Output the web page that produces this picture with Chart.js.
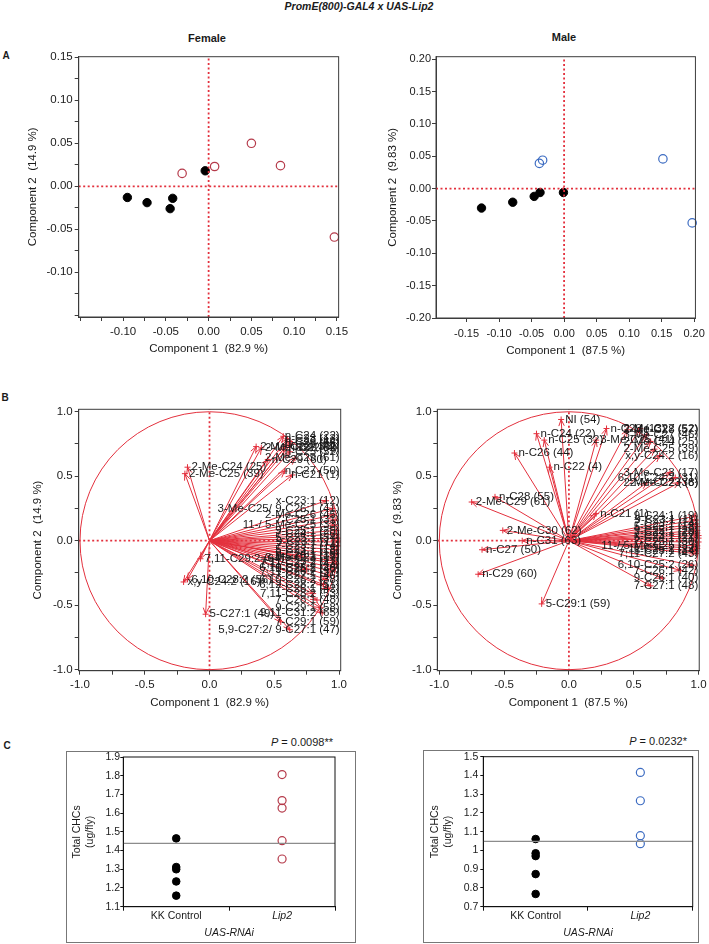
<!DOCTYPE html>
<html>
<head>
<meta charset="utf-8">
<title>PromE(800)-GAL4 x UAS-Lip2</title>
<script src="https://cdn.jsdelivr.net/npm/chart.js@4.4.1/dist/chart.umd.min.js"></script>
<style>
  html, body { margin: 0; padding: 0; background: #fff; }
  body { position: relative; width: 709px; height: 944px; overflow: hidden;
         font-family: "Liberation Sans", Arial, sans-serif; color: #1a1a1a; }
  canvas { position: absolute; }
  .t { position: absolute; white-space: nowrap; transform: translate(-50%, -50%); }
  .r { position: absolute; white-space: nowrap; transform: translate(-100%, -50%); font-size: 11px; }
  .frame { position: absolute; border: 1.5px solid #777; box-sizing: border-box; }
</style>
</head>
<body>

<div class="t" style="left:359px; top:6px; font: italic bold 10.5px 'Liberation Sans', Arial;">PromE(800)-GAL4 x UAS-Lip2</div>
<div class="t" style="left:207px; top:38px; font: bold 11px 'Liberation Sans', Arial;">Female</div>
<div class="t" style="left:564px; top:37px; font: bold 11px 'Liberation Sans', Arial;">Male</div>
<div class="t" style="left:6px; top:55px; font: bold 10px 'Liberation Sans', Arial;">A</div>
<div class="t" style="left:5px; top:397px; font: bold 10px 'Liberation Sans', Arial;">B</div>
<div class="t" style="left:7px; top:745px; font: bold 10px 'Liberation Sans', Arial;">C</div>

<div class="frame" style="left:66px; top:751px; width:290px; height:192px;"></div>
<div class="frame" style="left:423px; top:750px; width:276px; height:193px;"></div>
<div class="r" style="left:333px; top:742px;"><i>P</i> = 0.0098**</div>
<div class="r" style="left:687px; top:741px;"><i>P</i> = 0.0232*</div>

<canvas id="aFemale" width="352" height="322" style="left:0; top:40px;"></canvas>
<canvas id="aMale" width="350" height="322" style="left:360px; top:40px;"></canvas>
<canvas id="bFemale" width="352" height="322" style="left:0; top:395px;"></canvas>
<canvas id="bMale" width="350" height="322" style="left:360px; top:395px;"></canvas>
<canvas id="cFemale" width="290" height="200" style="left:60px; top:740px;"></canvas>
<canvas id="cMale" width="285" height="200" style="left:420px; top:740px;"></canvas>

<script>
// PCA scores (panel A)
const femaleCtrlX = [-0.095, -0.072, -0.045, -0.042, -0.004];
const femaleCtrlY = [-0.013, -0.019, -0.026, -0.014, 0.018];
const femaleLipX = [-0.031, 0.007, 0.050, 0.084, 0.147];
const femaleLipY = [0.015, 0.023, 0.050, 0.024, -0.059];
const maleCtrlX = [-0.127, -0.079, -0.046, -0.037, -0.001];
const maleCtrlY = [-0.030, -0.021, -0.012, -0.006, -0.006];
const maleLipX = [-0.038, -0.033, 0.152, 0.197];
const maleLipY = [0.039, 0.044, 0.046, -0.053];

// loadings (panel B)
const femaleLoadNames = ['2-Me-C24 (25)', '2-Me-C25 (39)', '2-Me-C23 (36)', '2-Me-C27 (52)', 'n-C24 (22)',
  'n-C23 (13)', 'n-C26 (44)', 'n-C28 (55)', 'n-C22 (4)', 'n-C25 (32)', 'n-C29 (60)', '2-Me-C29 (61)',
  'n-C27 (50)', 'n-C21 (1)', 'x-C23:1 (12)', '3-Me-C25/ 9-C26:1 (41)', '2-Me-C26 (45)', '7-C25:1 (31)',
  '11-/ 5-Me-C25 (33)', '9-C25:1 (29)', '7-C24:1 (20)', '5-C25:1 (34)', '9-C23:1 (11)', '7-C23:1 (14)',
  '5-C23:1 (18)', '9-C24:1 (19)', '3-Me-C23 (17)', '7,11-C25:2 (27)', '7,11-C27:2 (43)', '6,10-C25:2 (26)',
  '7,11-C26:2 (37)', '7-C27:1 (46)', '6,10-C26:2 (38)', '6,12-C28:2 (51)', '7-C26:1 (42)', '7,11-C28:2 (53)',
  '7-C28:1 (48)', '9-C29:1 (58)', '9,11-C31:2 (65)', '7-C29:1 (59)', '5,9-C27:2/ 9-C27:1 (47)',
  '5-C27:1 (49)', 'x,y-C24:2 (16)', '6,10-C28:2 (56)', '7,11-C29:2 (64)', '9-C26:1 (40)', '5-C26:1 (35)'];
const femaleLoadX = [-0.17, -0.19, 0.36, 0.40, 0.57, 0.60, 0.62, 0.63, 0.58, 0.62, 0.45, 0.66, 0.58, 0.64,
  0.90, 0.95, 0.96, 0.97, 0.97, 0.98, 0.98, 0.99, 0.99, 0.99, 0.98, 0.98, 0.97, 0.97, 0.98, 0.96, 0.95,
  0.93, 0.90, 0.88, 0.92, 0.80, 0.83, 0.86, 0.87, 0.55, 0.62, -0.03, -0.20, -0.17, -0.07, 0.75, 0.70];
const femaleLoadY = [0.57, 0.52, 0.73, 0.72, 0.81, 0.79, 0.77, 0.75, 0.72, 0.69, 0.63, 0.64, 0.54, 0.51,
  0.31, 0.25, 0.20, 0.16, 0.12, 0.08, 0.05, 0.02, -0.01, -0.04, -0.07, -0.10, -0.13, -0.16, -0.18, -0.21,
  -0.24, -0.27, -0.30, -0.34, -0.37, -0.41, -0.46, -0.52, -0.56, -0.63, -0.69, -0.57, -0.32, -0.30, -0.14,
  -0.22, -0.12];

const maleLoadNames = ['NI (54)', 'n-C24 (22)', 'n-C25 (32)', 'n-C26 (44)', 'n-C22 (4)', 'n-C28 (55)',
  '2-Me-C29 (61)', '2-Me-C30 (62)', 'n-C31 (63)', 'n-C27 (50)', 'n-C29 (60)', '5-C29:1 (59)', 'n-C21 (1)',
  'n-C23 (13)', '3-Me-C25 (41)', '2-Me-C28 (57)', '2-Me-C27 (52)', '3-Me-C27 (46)', '2-Me-C24 (25)',
  '2-Me-C25 (39)', 'x,y-C24:2 (16)', '3-Me-C23 (17)', '6,10-C24:2 (31)', '2-Me-C22 (36)', '2-Me-C23 (8)',
  '9-C24:1 (19)', '9-C23:1 (11)', '7-C23:1 (14)', '5-C23:1 (18)', '9-C25:1 (29)', '7-C24:1 (20)',
  'x-C23:1 (12)', '5-C24:1 (21)', '7-C25:1 (30)', '11-/ 5-Me-C25 (33)', '7,11-C25:2 (27)', '5-C25:1 (34)',
  '7,11-C27:2 (43)', '6,10-C25:2 (26)', '7-C26:1 (42)', '9-C26:1 (40)', '7-C27:1 (48)'];
const maleLoadX = [-0.06, -0.25, -0.19, -0.42, -0.15, -0.57, -0.75, -0.51, -0.36, -0.67, -0.70, -0.21, 0.21,
  0.29, 0.21, 0.45, 0.55, 0.60, 0.63, 0.66, 0.70, 0.78, 0.82, 0.85, 0.60, 0.97, 0.98, 0.98, 0.99, 0.99, 0.99,
  1.00, 1.00, 1.00, 0.99, 0.99, 0.98, 0.98, 0.95, 0.86, 0.72, 0.63];
const maleLoadY = [0.94, 0.83, 0.78, 0.68, 0.57, 0.34, 0.30, 0.08, 0.00, -0.07, -0.26, -0.49, 0.21,
  0.87, 0.78, 0.86, 0.87, 0.82, 0.77, 0.71, 0.66, 0.53, 0.49, 0.45, 0.45, 0.19, 0.16, 0.13, 0.11, 0.08, 0.06,
  0.04, 0.02, -0.01, -0.04, -0.06, -0.08, -0.10, -0.19, -0.23, -0.29, -0.35];

// total CHCs (panel C)
const groups = ['KK Control', 'Lip2'];
const femaleCtrlCHC = [1.465, 1.312, 1.300, 1.235, 1.159];
const femaleLipCHC = [1.806, 1.667, 1.627, 1.453, 1.355];
const femaleMeanCHC = 1.438;
const maleCtrlCHC = [1.061, 0.985, 0.970, 0.874, 0.768];
const maleLipCHC = [1.416, 1.265, 1.079, 1.036];
const maleMeanCHC = 1.048;

// tick values and labels
const femaleATicks = [-0.15, -0.125, -0.1, -0.075, -0.05, -0.025, 0, 0.025, 0.05, 0.075, 0.1, 0.125, 0.15];
const femaleALabels = ['-0.10', '-0.05', '0.00', '0.05', '0.10', '0.15'];
const maleAXTicks = [-0.15, -0.1, -0.05, 0, 0.05, 0.1, 0.15, 0.2];
const maleAYTicks = [-0.2, -0.15, -0.1, -0.05, 0, 0.05, 0.1, 0.15, 0.2];
const maleALabels = ['-0.20', '-0.15', '-0.10', '-0.05', '0.00', '0.05', '0.10', '0.15', '0.20'];
const bTicks = [-1, -0.75, -0.5, -0.25, 0, 0.25, 0.5, 0.75, 1];
const bLabels = ['-1.0', '-0.5', '0.0', '0.5', '1.0'];
const femaleCTicks = [1.1, 1.2, 1.3, 1.4, 1.5, 1.6, 1.7, 1.8, 1.9];
const maleCTicks = [0.7, 0.8, 0.9, 1.0, 1.1, 1.2, 1.3, 1.4, 1.5];

const FONT = '"Liberation Sans", Arial, Helvetica, sans-serif';
const INK = '#1a1a1a';
const AXIS = '#3c3c3c';
const RED = '#e3303d';

function fmt(v, dec) {
    if (Math.abs(v) < 1e-9) v = 0;
    return v.toFixed(dec);
}

function pts(xs, ys) {
    return xs.map((v, i) => ({ x: v, y: ys[i] }));
}

// dashed zero lines across the plot
function crossData(xMin, xMax, yMin, yMax) {
    return [{ x: 0, y: yMin }, { x: 0, y: yMax }, { x: null, y: null }, { x: xMin, y: 0 }, { x: xMax, y: 0 }];
}

// one segment from the origin to each loading, gaps in between
function spokeData(xs, ys) {
    const out = [];
    xs.forEach((v, i) => out.push({ x: 0, y: 0 }, { x: v, y: ys[i] }, { x: null, y: null }));
    return out;
}

const frameBox = {
    id: 'frameBox',
    afterDraw(chart, args, opts) {
        const { ctx, chartArea: a } = chart;
        ctx.save();
        ctx.strokeStyle = opts.color || AXIS;
        ctx.lineWidth = 1;
        ctx.strokeRect(a.left, a.top, a.right - a.left, a.bottom - a.top);
        ctx.restore();
    }
};

// unit circle, arrow heads and variable names for the loading plots
function makeBiplot(xs, ys, names) {
    return {
        id: 'biplot',
        afterDatasetsDraw(chart) {
            const { ctx, chartArea: a, scales: { x, y } } = chart;
            const cx = x.getPixelForValue(0), cy = y.getPixelForValue(0);
            const rx = x.getPixelForValue(1) - cx, ry = cy - y.getPixelForValue(1);
            ctx.save();
            ctx.strokeStyle = RED;
            ctx.lineWidth = 1;
            ctx.beginPath();
            ctx.ellipse(cx, cy, rx, ry, 0, 0, Math.PI * 2);
            ctx.stroke();
            xs.forEach((v, i) => {
                const px = x.getPixelForValue(v), py = y.getPixelForValue(ys[i]);
                const ang = Math.atan2(py - cy, px - cx);
                ctx.beginPath();
                ctx.moveTo(px - 7 * Math.cos(ang - 0.4), py - 7 * Math.sin(ang - 0.4));
                ctx.lineTo(px, py);
                ctx.lineTo(px - 7 * Math.cos(ang + 0.4), py - 7 * Math.sin(ang + 0.4));
                ctx.stroke();
            });
            ctx.font = '11.5px ' + FONT;
            ctx.fillStyle = INK;
            ctx.textBaseline = 'middle';
            names.forEach((name, i) => {
                const px = x.getPixelForValue(xs[i]), py = y.getPixelForValue(ys[i]);
                const w = ctx.measureText(name).width;
                let tx = px + 4;
                if (tx + w > a.right - 1) tx = a.right - 1 - w; // keep names inside the frame
                ctx.fillText(name, tx, py);
            });
            ctx.restore();
        }
    };
}

function linAxis(o) {
    return {
        type: 'linear',
        min: o.min,
        max: o.max,
        afterBuildTicks: s => { s.ticks = o.ticks.map(v => ({ value: v })); },
        afterFit: s => { if (s.isHorizontal()) s.height = o.size; else s.width = o.size; },
        ticks: {
            padding: o.pad,
            color: INK,
            autoSkip: false,
            maxRotation: 0,
            font: { family: FONT, size: o.font || 11.5, lineHeight: 1.2 },
            callback: v => {
                const s = fmt(v, o.dec);
                return o.labels.includes(s) ? s : '';
            }
        },
        grid: { drawOnChartArea: false, drawTicks: true, tickLength: 4, color: AXIS },
        border: { display: true, color: AXIS },
        title: {
            display: true, text: o.title, color: INK,
            font: { family: FONT, size: 11.5, lineHeight: 1.2 },
            padding: o.titlePad
        }
    };
}

function baseOptions(cfg) {
    return {
        responsive: false,
        animation: false,
        devicePixelRatio: 1,
        layout: { padding: cfg.pad },
        plugins: { legend: { display: false }, tooltip: { enabled: false }, frameBox: { color: AXIS } },
        scales: { x: linAxis(cfg.x), y: linAxis(cfg.y) }
    };
}

function dashedCross(cfg) {
    return {
        data: crossData(cfg.x.min, cfg.x.max, cfg.y.min, cfg.y.max),
        showLine: true, spanGaps: false, borderColor: RED, borderWidth: 1.8, borderDash: [2, 2.5], pointRadius: 0
    };
}

function scoreChart(id, cfg) {
    return new Chart(document.getElementById(id), {
        type: 'scatter',
        data: {
            datasets: [
                dashedCross(cfg),
                { data: pts(cfg.ctrlX, cfg.ctrlY), pointRadius: 4.2, backgroundColor: '#000', borderColor: '#000', clip: false },
                { data: pts(cfg.lipX, cfg.lipY), pointRadius: 4.2, backgroundColor: 'rgba(0,0,0,0)',
                  borderColor: cfg.lipColor, borderWidth: 1.2, clip: false }
            ]
        },
        options: baseOptions(cfg),
        plugins: [frameBox]
    });
}

function loadingChart(id, cfg) {
    return new Chart(document.getElementById(id), {
        type: 'scatter',
        data: {
            datasets: [
                dashedCross(cfg),
                { data: spokeData(cfg.lx, cfg.ly), showLine: true, spanGaps: false, borderColor: RED, borderWidth: 1,
                  pointStyle: 'cross', pointRadius: c => (c.index % 3 === 1 ? 3 : 0),
                  pointBorderColor: RED, pointBorderWidth: 1, clip: false }
            ]
        },
        options: baseOptions(cfg),
        plugins: [frameBox, makeBiplot(cfg.lx, cfg.ly, cfg.names)]
    });
}

function chcChart(id, cfg) {
    return new Chart(document.getElementById(id), {
        type: 'scatter',
        data: {
            labels: groups,
            datasets: [
                { data: [{ x: 0, y: cfg.mean }, { x: 1, y: cfg.mean }], xAxisID: 'xm', showLine: true,
                  borderColor: '#8c8c8c', borderWidth: 1.3, pointRadius: 0 },
                { data: cfg.ctrl.map(v => ({ x: groups[0], y: v })), pointRadius: 3.8, backgroundColor: '#000', borderColor: '#000' },
                { data: cfg.lip.map(v => ({ x: groups[1], y: v })), pointRadius: 4, backgroundColor: 'rgba(0,0,0,0)',
                  borderColor: cfg.color, borderWidth: 1.2 }
            ]
        },
        options: {
            responsive: false,
            animation: false,
            devicePixelRatio: 1,
            layout: { padding: cfg.pad },
            plugins: { legend: { display: false }, tooltip: { enabled: false }, frameBox: { color: '#111' } },
            scales: {
                x: {
                    type: 'category', labels: groups, offset: true,
                    afterFit: s => { s.height = 33.3; },
                    grid: { offset: true, drawOnChartArea: false, tickLength: 4, color: '#111' },
                    border: { display: true, color: '#111' },
                    ticks: {
                        padding: 0, color: INK,
                        font: c => ({ family: FONT, size: 10.5, lineHeight: 1.1, style: c.index === 1 ? 'italic' : 'normal' })
                    },
                    title: { display: true, text: 'UAS-RNAi', color: INK,
                             font: { family: FONT, size: 10.5, style: 'italic', lineHeight: 1.1 },
                             padding: { top: 0, bottom: 1.3 } }
                },
                xm: { type: 'linear', display: false, min: 0, max: 1 },
                y: {
                    min: cfg.ticks[0], max: cfg.ticks[cfg.ticks.length - 1],
                    afterBuildTicks: s => { s.ticks = cfg.ticks.map(v => ({ value: v })); },
                    afterFit: s => { s.width = 63.3; },
                    grid: { drawOnChartArea: false, tickLength: 3, color: '#111' },
                    border: { display: true, color: '#111' },
                    ticks: { padding: cfg.tickPad, color: INK, font: { family: FONT, size: 10.5, lineHeight: 1.1 },
                             callback: v => String(+v.toFixed(1)) },
                    title: { display: true, text: ['Total CHCs', '(ug/fly)'], color: INK,
                             font: { family: FONT, size: 10.5, lineHeight: 1.24 },
                             padding: { top: cfg.titleTop, bottom: 0 } }
                }
            }
        },
        plugins: [frameBox]
    });
}

scoreChart('aFemale', {
    pad: { top: 16.7, right: 12, bottom: 3, left: 0 },
    x: { min: -0.1519, max: 0.152, ticks: femaleATicks, labels: femaleALabels, dec: 2, size: 42, pad: 3.8,
         title: 'Component 1  (82.9 %)', titlePad: { top: 0, bottom: 2.8 } },
    y: { min: -0.152, max: 0.1507, ticks: femaleATicks, labels: femaleALabels, dec: 2, size: 78.7, pad: 2,
         title: 'Component 2  (14.9 %)', titlePad: { top: 26.1, bottom: 0 } },
    ctrlX: femaleCtrlX, ctrlY: femaleCtrlY, lipX: femaleLipX, lipY: femaleLipY, lipColor: '#b53a4a'
});

scoreChart('aMale', {
    pad: { top: 16.7, right: 13, bottom: 3, left: 0 },
    x: { min: -0.197, max: 0.202, ticks: maleAXTicks, labels: maleALabels, dec: 2, size: 41, pad: 5.1, font: 11,
         title: 'Component 1  (87.5 %)', titlePad: { top: 0, bottom: 1.1 } },
    y: { min: -0.2, max: 0.204, ticks: maleAYTicks, labels: maleALabels, dec: 2, size: 76, pad: 1, font: 11,
         title: 'Component 2  (9.83 %)', titlePad: { top: 25.8, bottom: 0 } },
    ctrlX: maleCtrlX, ctrlY: maleCtrlY, lipX: maleLipX, lipY: maleLipY, lipColor: '#3d6cc2'
});

loadingChart('bFemale', {
    pad: { top: 14.3, right: 11.3, bottom: 3, left: 0 },
    x: { min: -1.01, max: 1.013, ticks: bTicks, labels: bLabels, dec: 1, size: 43.3, pad: 3.4,
         title: 'Component 1  (82.9 %)', titlePad: { top: 0, bottom: 4.4 } },
    y: { min: -1.008, max: 1.019, ticks: bTicks, labels: bLabels, dec: 1, size: 78.7, pad: 2,
         title: 'Component 2  (14.9 %)', titlePad: { top: 31.4, bottom: 0 } },
    lx: femaleLoadX, ly: femaleLoadY, names: femaleLoadNames
});

loadingChart('bMale', {
    pad: { top: 14.3, right: 10.7, bottom: 3, left: 0 },
    x: { min: -1.015, max: 1.005, ticks: bTicks, labels: bLabels, dec: 1, size: 43.3, pad: 3.4,
         title: 'Component 1  (87.5 %)', titlePad: { top: 0, bottom: 4.4 } },
    y: { min: -1.008, max: 1.019, ticks: bTicks, labels: bLabels, dec: 1, size: 77.3, pad: 1.6,
         title: 'Component 2  (9.83 %)', titlePad: { top: 31.4, bottom: 0 } },
    lx: maleLoadX, ly: maleLoadY, names: maleLoadNames
});

chcChart('cFemale', {
    pad: { top: 17, right: 15, bottom: 0, left: 0 },
    ticks: femaleCTicks, tickPad: 0.3, titleTop: 10.5,
    ctrl: femaleCtrlCHC, lip: femaleLipCHC, mean: femaleMeanCHC, color: '#b53a4a'
});

chcChart('cMale', {
    pad: { top: 16.7, right: 12.3, bottom: 0, left: 0 },
    ticks: maleCTicks, tickPad: 2, titleTop: 8.5,
    ctrl: maleCtrlCHC, lip: maleLipCHC, mean: maleMeanCHC, color: '#3d6cc2'
});
</script>
</body>
</html>
